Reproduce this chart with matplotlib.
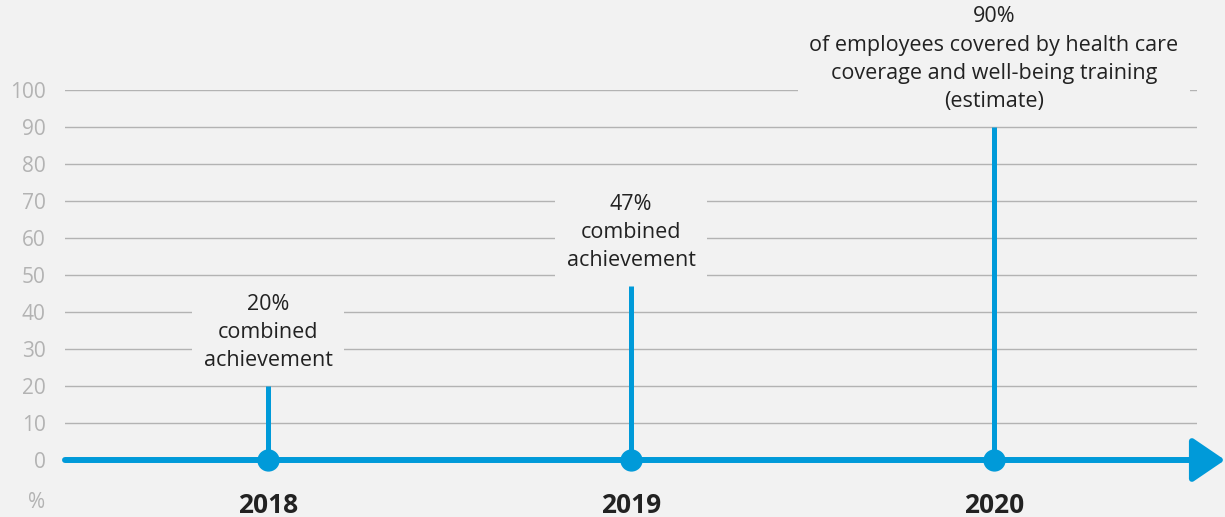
import numpy as np
import matplotlib.pyplot as plt

# dados do grafico
anos = ['2018', '2019', '2020']
valores = [20, 47, 90]
rotulos = ['20%\ncombined\nachievement',
           '47%\ncombined\nachievement',
           '90%\nof employees covered by health care\ncoverage and well-being training\n(estimate)']
y_ticks = list(range(0, 101, 10))

azul = '#009ad9'
fundo = '#f2f2f2'
cinza = '#b3b3b3'

plt.rcParams['font.family'] = ['Open Sans', 'DejaVu Sans']

fig = plt.figure(figsize=(12.25, 5.17), dpi=100, facecolor=fundo)
ax = fig.add_axes([65/1225, 57/517, 1132/1225, 370/517], facecolor=fundo)

x = np.arange(len(anos))
ax.set_xlim(-0.559, 2.559)
ax.set_ylim(0, 100)

# grade
ax.set_yticks(y_ticks)
ax.set_yticklabels([str(v) for v in y_ticks], color=cinza, fontsize=15)
ax.yaxis.grid(True, color=cinza, lw=1, zorder=0)
ax.set_axisbelow(True)
ax.tick_params(axis='y', length=0, pad=14)

ax.set_xticks(x)
ax.set_xticklabels(anos, fontsize=19, fontweight='bold', color='#222222')
ax.tick_params(axis='x', length=0, pad=23)

for s in ax.spines.values():
    s.set_visible(False)

# eixo com seta
ax.annotate('', xy=(1.0 + 28/1132, 0), xycoords=('axes fraction', 'data'),
            xytext=(0, 0), textcoords=('axes fraction', 'data'),
            arrowprops=dict(arrowstyle='-|>,head_length=1.0,head_width=0.68',
                            color=azul, lw=4.3, shrinkA=0, shrinkB=0,
                            mutation_scale=20),
            annotation_clip=False, zorder=3)

# hastes
ax.vlines(x, 0, valores, color=azul, lw=3.6, zorder=3)
ax.plot(x, [0]*len(x), 'o', color=azul, ms=15, zorder=4, clip_on=False)

# textos
for xi, v, r in zip(x, valores, rotulos):
    ax.annotate(r, xy=(xi, v), xytext=(0, 15), textcoords='offset pixels',
                ha='center', va='bottom', fontsize=15.5, color='#222222',
                linespacing=1.45, zorder=5, annotation_clip=False,
                bbox=dict(boxstyle='square,pad=0.55', fc=fundo, ec='none'))

ax.annotate('%', xy=(0, 0), xycoords='axes fraction', xytext=(-20, -42),
            textcoords='offset pixels', ha='right', va='center',
            color=cinza, fontsize=15)

fig.savefig('out.png', dpi=100, facecolor=fundo)
